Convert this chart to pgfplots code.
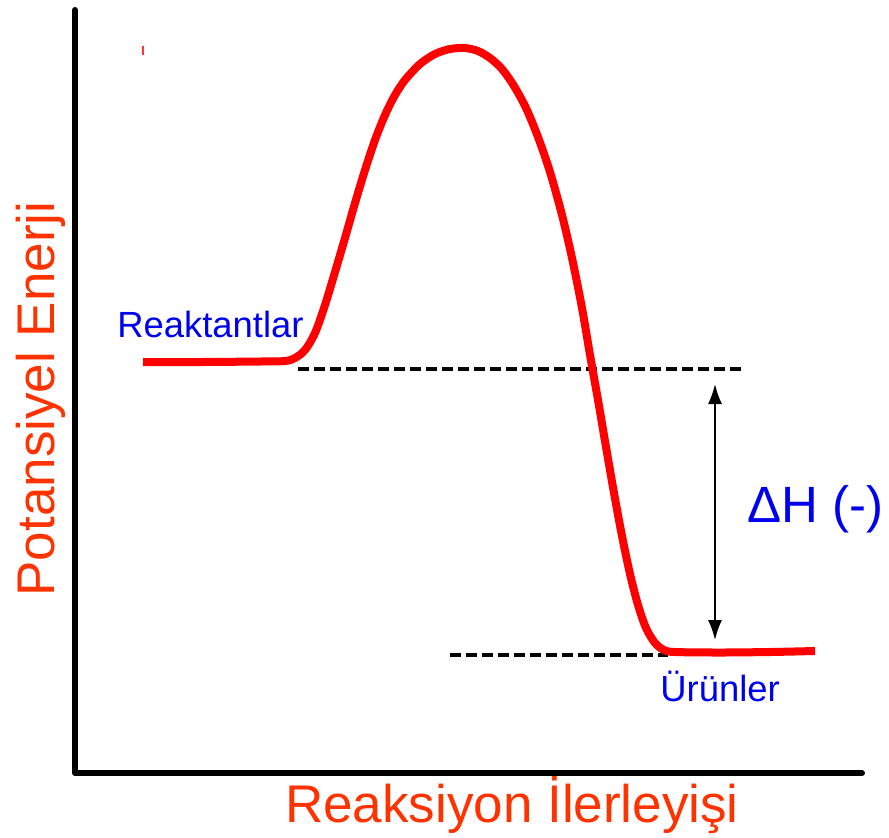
\documentclass[border=0pt]{standalone}
\usepackage{fontspec}
\setmainfont{Liberation Sans}
\usepackage{pgfplots}
\pgfplotsset{compat=1.18}
\usetikzlibrary{arrows.meta}
\definecolor{labred}{HTML}{FF3300}
\definecolor{txtblue}{HTML}{0000F0}
\begin{document}
\begin{tikzpicture}
\begin{axis}[
  name=main,
  scale only axis, width=444.5pt, height=418.5pt,
  xmin=0, xmax=889, ymin=0, ymax=837, y dir=reverse,
  hide axis, clip=false]
% axis lines
\addplot[black, line width=3pt, line join=round, line cap=round] coordinates {(75,10) (75,773) (862,773)};
% small red tick
\addplot[red!80, line width=1pt] coordinates {(143,46) (143,55)};
% dashed reference lines
\addplot[black, line width=1.8pt, dash pattern=on 5.6pt off 2.4pt] coordinates {(298,369) (743,369)};
\addplot[black, line width=1.8pt, dash pattern=on 5.6pt off 2.4pt] coordinates {(450,655) (668,655)};
% Delta H arrow
\addplot[black, line width=0.9pt, {Latex[length=10pt,width=7pt]}-{Latex[length=10pt,width=7pt]}] coordinates {(715,384) (715,640)};
% energy curve
\addplot[red, line width=4pt, smooth, tension=0.5] coordinates {
(143,362) (200,362) (260,361.5) (285,361) (295,358) (305,350) (315,333) (325,305)
(335,272) (345,238) (355,203) (365,170) (375,140) (385,115) (395,95) (405,80)
(420,64) (435,54) (450,49) (465,48) (478,51) (490,58) (502,69) (514,86)
(526,108) (538,137) (550,172) (562,215) (572,258) (582,308) (590,355) (598,400)
(606,447) (614,493) (622,536) (630,574) (638,605) (646,628) (655,643) (664,650)
(675,652) (720,652.5) (770,652) (815,651)};
% texts
\node[anchor=base west, text=txtblue, font=\fontsize{18.2}{22}\selectfont, inner sep=0pt] at (axis cs:117,337) {Reaktantlar};
\node[anchor=base west, text=txtblue, font=\fontsize{18.2}{22}\selectfont, inner sep=0pt] at (axis cs:660,701) {Ürünler};
\node[anchor=base west, text=txtblue, font=\fontsize{25.5}{30}\selectfont, inner sep=0pt] at (axis cs:747,522) {ΔH (-)};
\node[anchor=base, text=labred, font=\fontsize{26.5}{32}\selectfont, inner sep=0pt] at (axis cs:512,822) {Reaksiyon İlerleyişi};
\node[anchor=base, rotate=90, text=labred, font=\fontsize{26.5}{32}\selectfont, inner sep=0pt] at (axis cs:55,399) {Potansiyel Enerji};
\end{axis}
\pgfresetboundingbox
\path[use as bounding box] (main.south west) rectangle (main.north east);
\end{tikzpicture}
\end{document}
